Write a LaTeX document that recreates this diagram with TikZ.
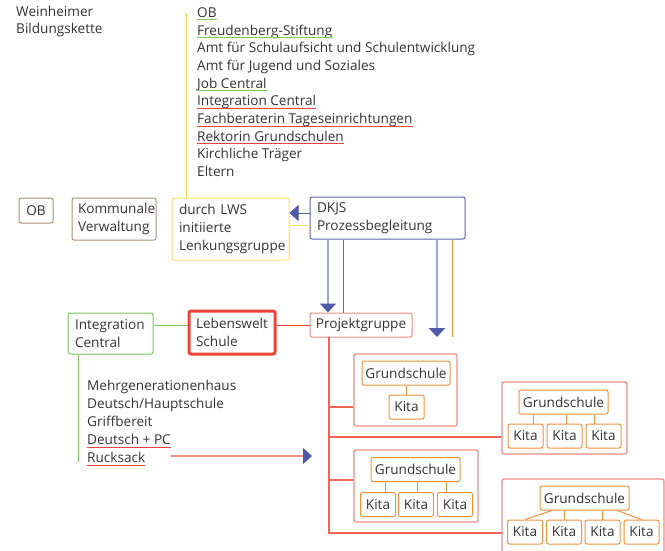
\documentclass[tikz,border=0pt]{standalone}
\usepackage{fontspec}
\setmainfont{Open Sans}
\usetikzlibrary{arrows.meta}
\definecolor{txt}{HTML}{333333}
\definecolor{cyel}{HTML}{F8D050}
\definecolor{cyelb}{HTML}{F8DC78}
\definecolor{cbrown}{HTML}{A89080}
\definecolor{cblue}{HTML}{5A60B0}
\definecolor{cdblue}{HTML}{5058A8}
\definecolor{clblue}{HTML}{A0A6D4}
\definecolor{cred}{HTML}{E84535}
\definecolor{csalmon}{HTML}{F08C84}
\definecolor{cvred}{HTML}{F06656}
\definecolor{corange}{HTML}{F4903A}
\definecolor{cgreen}{HTML}{78C858}
\definecolor{ulgreen}{HTML}{7CCB5E}
\tikzset{
  every node/.style={font=\fontsize{13.6}{18}\selectfont, text=txt},
  box/.style={draw=#1, rounded corners=2pt, line width=1pt, inner xsep=7pt, inner ysep=0pt, align=left},
  cbox/.style={draw=#1, rounded corners=2pt, line width=1pt, inner sep=0pt, align=center},
  item/.style={anchor=base west, inner sep=0pt},
  tipblue/.style={-{Triangle[width=16pt,length=9pt,fill=cdblue,color=cdblue]}},
}
\begin{document}
\begin{tikzpicture}[x=1pt,y=-1pt]
\useasboundingbox (0,0) rectangle (665,550);
\clip (0,0) rectangle (665,550);

% title
\node[item] (t1) at (16,16) {Weinheimer};
\node[item] (t2) at (16,33.5) {Bildungskette};

% top list
\node[item] (l1) at (197,17.3) {OB};
\node[item] (l2) at (197,35.0) {Freudenberg-Stiftung};
\node[item] (l3) at (197,52.7) {Amt für Schulaufsicht und Schulentwicklung};
\node[item] (l4) at (197,70.4) {Amt für Jugend und Soziales};
\node[item] (l5) at (197,88.1) {Job Central};
\node[item] (l6) at (197,105.8) {Integration Central};
\node[item] (l7) at (197,123.5) {Fachberaterin Tageseinrichtungen};
\node[item] (l8) at (197,141.2) {Rektorin Grundschulen};
\node[item] (l9) at (197,158.9) {Kirchliche Träger};
\node[item] (l10) at (197,176.6) {Eltern};
\draw[ulgreen, line width=1.1pt] ([yshift=-2.5pt]l1.base west) -- ([yshift=-2.5pt]l1.base east);
\draw[ulgreen, line width=1.1pt] ([yshift=-2.5pt]l2.base west) -- ([yshift=-2.5pt]l2.base east);
\draw[ulgreen, line width=1.1pt] ([yshift=-2.5pt]l5.base west) -- ([yshift=-2.5pt]l5.base east);
\draw[cred, line width=1pt] ([yshift=-2.5pt]l6.base west) -- ([yshift=-2.5pt]l6.base east);
\draw[cred, line width=1pt] ([yshift=-2.5pt]l7.base west) -- ([yshift=-2.5pt]l7.base east);
\draw[cred, line width=1pt] ([yshift=-2.5pt]l8.base west) -- ([yshift=-2.5pt]l8.base east);

% middle row boxes
\node[cbox=cbrown, minimum width=34pt, minimum height=25pt] (ob) at (36,210.5) {OB};
\node[box=cbrown, inner xsep=6pt, text width=72pt, minimum height=42pt] (kv) at (114,219) {Kommunale\\Verwaltung};
\node[box=cyelb, text width=103pt, minimum height=62pt] (lenk) at (230.5,229) {durch LWS\\initiierte\\Lenkungsgruppe};
\node[box=cblue, text width=141pt, minimum height=42pt] (dkjs) at (387.5,218) {DKJS\\Prozessbegleitung};

% yellow line from list
\coordinate (ytop) at (186,13);
\draw[cyel, line width=1pt] (ytop) -- (ytop |- lenk.north);

% DKJS to Lenkungsgruppe
\draw[cdblue, line width=1pt, tipblue] (dkjs.west |- 0,213) -- (lenk.east |- 0,213);
\draw[cyelb, line width=1pt] (dkjs.west |- 0,225) -- (lenk.east |- 0,225);

% lower row
\node[cbox=csalmon, minimum width=102pt, minimum height=24pt] (pg) at (361,325) {Projektgruppe};
\node[box=cred, line width=3pt, inner xsep=7pt, text width=72pt, minimum height=43pt] (lws) at (232,332.5) {Lebenswelt\\Schule};
\node[box=cgreen, text width=71pt, minimum height=41pt] (ic) at (110.5,333.5) {Integration\\Central};

\draw[cgreen, line width=1pt] (ic.east |- 0,325) -- (lws.west |- 0,325);
\draw[cred, line width=1pt] (lws.east |- 0,325) -- (pg.west |- 0,325);

% DKJS downward
\coordinate (d1) at (328,0);
\coordinate (d2) at (343,0);
\coordinate (d3) at (437,0);
\coordinate (d4) at (452,0);
\coordinate (e3) at (437,337);
\coordinate (e4) at (452,337);
\draw[clblue, line width=2pt, tipblue] (d1 |- dkjs.south) -- (d1 |- pg.north);
\draw[cred, line width=0.8pt] (d2 |- dkjs.south) -- (d2 |- pg.north);
\draw[clblue, line width=2pt, tipblue] (d3 |- dkjs.south) -- (e3);
\draw[corange, line width=0.8pt] (d4 |- dkjs.south) -- (e4);

% green list
\coordinate (gend) at (78,462);
\draw[cgreen, line width=1pt] (gend |- ic.south) -- (gend);
\node[item] (m1) at (87,390) {Mehrgenerationenhaus};
\node[item] (m2) at (87,408.2) {Deutsch/Hauptschule};
\node[item] (m3) at (87,426.4) {Griffbereit};
\node[item] (m4) at (87,444.6) {Deutsch + PC};
\node[item] (m5) at (87,462.8) {Rucksack};
\draw[cred, line width=1pt] ([yshift=-3pt]m4.base west) -- ([yshift=-3pt]m4.base east);
\draw[cred, line width=1pt] ([yshift=-3pt]m5.base west) -- ([yshift=-3pt]m5.base east);
\coordinate (rs) at (171,456);
\coordinate (rt) at (312,456);
\draw[csalmon, line width=1.2pt, tipblue] (rs) -- (rt);

% school groups
\tikzset{outer/.style={draw=csalmon, rounded corners=2pt, line width=1.2pt, inner sep=0pt},
         gs/.style={cbox=corange, minimum width=88pt, minimum height=24pt},
         kita/.style={cbox=corange, minimum width=35pt, minimum height=24pt},
         link/.style={draw=corange, line width=1pt}}
\node[outer, minimum width=103pt, minimum height=72pt] (b1) at (405.5,390) {};
\node[gs] (g1) at (406,373) {Grundschule};
\node[kita] (k11) at (406.5,407) {Kita};
\draw[link] (k11.north) -- (k11.north |- g1.south);

\node[outer, minimum width=125pt, minimum height=72pt] (b2) at (564.5,418) {};
\node[gs, minimum width=89pt] (g2) at (563.5,402) {Grundschule};
\node[kita] (k21) at (525.5,436) {Kita};
\node[kita] (k22) at (564.5,436) {Kita};
\node[kita] (k23) at (603.5,436) {Kita};
\draw[link] ([xshift=7.5pt]k21.north) -- ([xshift=7.5pt]k21.north |- g2.south);
\draw[link] ([xshift=1.5pt]k22.north) -- ([xshift=1.5pt]k22.north |- g2.south);
\draw[link] ([xshift=-9.5pt]k23.north) -- ([xshift=-9.5pt]k23.north |- g2.south);

\node[outer, minimum width=124pt, minimum height=72pt] (b3) at (416,486) {};
\node[gs, minimum width=89pt] (g3) at (415.5,469.5) {Grundschule};
\node[kita] (k31) at (378,504.5) {Kita};
\node[kita] (k32) at (416,504.5) {Kita};
\node[kita] (k33) at (455,504.5) {Kita};
\draw[link] ([xshift=7pt]k31.north) -- ([xshift=7pt]k31.north |- g3.south);
\draw[link] ([xshift=1pt]k32.north) -- ([xshift=1pt]k32.north |- g3.south);
\draw[link] ([xshift=-9pt]k33.north) -- ([xshift=-9pt]k33.north |- g3.south);

\coordinate (b4a) at (502,556);
\coordinate (b4b) at (664,479);
\draw[csalmon, line width=1.2pt, rounded corners=2pt] (b4a) |- (b4b) -- (b4b |- b4a);
\node[gs, minimum width=89pt] (g4) at (584.5,498) {Grundschule};
\node[kita] (k41) at (525,532) {Kita};
\node[kita] (k42) at (564,532) {Kita};
\node[kita] (k43) at (602.5,532) {Kita};
\node[kita] (k44) at (641.5,532) {Kita};
\draw[link] ([xshift=-32.5pt]g4.south) -- (k41.north);
\draw[link] (k42.north) -- (k42.north |- g4.south);
\draw[link] (k43.north) -- (k43.north |- g4.south);
\draw[link] ([xshift=32.5pt]g4.south) -- (k44.north);

% Projektgruppe trunk
\coordinate (vtop) at (329,337);
\coordinate (vbot) at (329,533);
\coordinate (v1) at (329,407);
\coordinate (v2) at (329,437);
\coordinate (v3) at (329,480);
\draw[cvred, line width=1.2pt] (vtop) -- (vbot) -- (vbot -| b4a);
\draw[cvred, line width=1.2pt] (v1) -- (v1 -| b1.west);
\draw[cvred, line width=1.2pt] (v2) -- (v2 -| b2.west);
\draw[cvred, line width=1.2pt] (v3) -- (v3 -| b3.west);
\end{tikzpicture}
\end{document}
